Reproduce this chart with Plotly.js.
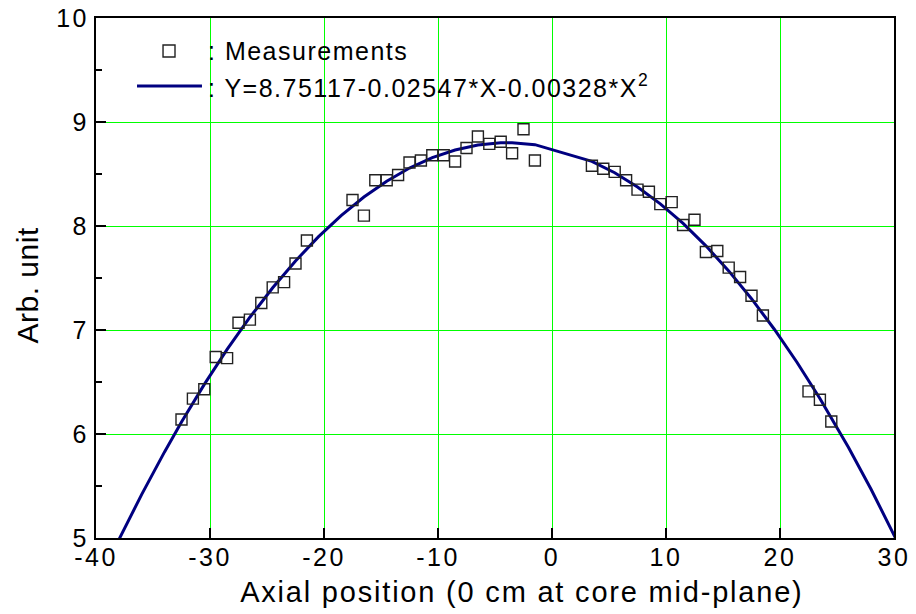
<!DOCTYPE html>
<html>
<head>
<meta charset="utf-8">
<script src="https://cdn.plot.ly/plotly-3.0.1.min.js"></script>
<style>
html,body{margin:0;padding:0;background:#fff;}
#chart{width:916px;height:614px;}
.xtick text, .ytick text{letter-spacing:2.5px;}
.annotation-text{letter-spacing:1.5px;}
.annotation[data-index="2"] .annotation-text{letter-spacing:1.8px;}
.annotation[data-index="3"] .annotation-text{letter-spacing:0.5px;}
</style>
</head>
<body>
<div id="chart"></div>
<script>
var measX = [-32.5,-31.5,-30.5,-29.5,-28.5,-27.5,-26.5,-25.5,-24.5,-23.5,-22.5,-21.5,
             -17.5,-16.5,-15.5,-14.5,-13.5,-12.5,-11.5,-10.5,-9.5,-8.5,-7.5,-6.5,-5.5,-4.5,-3.5,-2.5,-1.5,
             3.5,4.5,5.5,6.5,7.5,8.5,9.5,10.5,11.5,12.5,13.5,14.5,15.5,16.5,17.5,18.5,
             22.5,23.5,24.5];
var measY = [6.14,6.34,6.43,6.74,6.73,7.07,7.10,7.26,7.41,7.46,7.64,7.86,
             8.25,8.10,8.44,8.44,8.49,8.61,8.63,8.68,8.68,8.62,8.75,8.86,8.79,8.81,8.70,8.93,8.63,
             8.58,8.55,8.52,8.44,8.35,8.33,8.21,8.23,8.01,8.06,7.75,7.76,7.60,7.51,7.33,7.14,
             6.41,6.33,6.12];
// Fitted curve values (Y=8.75117-0.02547*X-0.00328*X^2), tabulated
var fitX = [-38,-36,-34,-32.5,-30.5,-28.5,-26.5,-24.5,-22.5,-20.5,-18.5,-16.5,-14.5,-12.5,-10.5,-8.5,-6.5,-4.5,-3.5,-2.5,-1.5,
            3.5,5.5,7.5,9.5,11.5,13.5,15.5,17.5,19.5,21.5,23.5,24.5,26,28,30,31];
var fitY = [4.9827,5.4172,5.8255,6.1145,6.4768,6.8129,7.1228,7.4064,7.6638,7.8949,8.0998,8.2785,8.4309,8.5571,8.6570,8.7307,8.7782,8.7994,8.8001,8.7944,8.7820,
            8.6218,8.5119,8.3756,8.2132,8.0245,7.8095,7.5684,7.3009,7.0073,6.6874,6.3412,6.1583,5.8717,5.4665,5.0351,4.8095];
var xTicks = [-40,-30,-20,-10,0,10,20,30];
var yTicks = [5,6,7,8,9,10];
var legendLabels = [': Measurements', ': Y=8.75117-0.02547*X-0.00328*X<sup>2</sup>'];
var xTitle = 'Axial position (0 cm at core mid-plane)';
var yTitle = 'Arb. unit';

var FONT = 'Liberation Sans, Arial, sans-serif';

var traces = [
  {x: fitX, y: fitY, mode: 'lines', type: 'scatter',
   line: {color: '#000080', width: 3}, showlegend: false, hoverinfo: 'skip'},
  {x: measX, y: measY, mode: 'markers', type: 'scatter',
   marker: {symbol: 'square-open', size: 11, color: '#222', line: {width: 1.4}},
   showlegend: false}
];

var layout = {
  width: 916, height: 614,
  margin: {l: 96, r: 22, t: 18, b: 76},
  paper_bgcolor: '#fff', plot_bgcolor: '#fff',
  font: {family: FONT, color: '#000', size: 24},
  showlegend: false,
  xaxis: {
    range: [-40, 30], tickvals: xTicks, ticktext: xTicks.map(String),
    ticks: 'inside', ticklen: 10, tickwidth: 1.5, tickcolor: '#000',
    showgrid: true, gridcolor: '#00ff00', gridwidth: 1,
    zeroline: false, showline: true, linecolor: '#000', linewidth: 2, mirror: true,
    tickfont: {size: 25, family: FONT}, ticklabelstandoff: -4
  },
  yaxis: {
    range: [5, 10], tickvals: yTicks, ticktext: yTicks.map(String),
    ticks: 'inside', ticklen: 10, tickwidth: 1.5, tickcolor: '#000',
    minor: {dtick: 0.5, ticks: 'inside', ticklen: 6, tickcolor: '#000', tickwidth: 1.2, showgrid: false},
    showgrid: true, gridcolor: '#00ff00', gridwidth: 1,
    zeroline: false, showline: true, linecolor: '#000', linewidth: 2, mirror: true,
    tickfont: {size: 25, family: FONT}
  },
  shapes: [
    {type: 'rect', xref: 'paper', yref: 'paper', x0: 0.0840, x1: 0.0990, y0: 0.925, y1: 0.948,
     line: {color: '#222', width: 1.4}, fillcolor: 'rgba(0,0,0,0)'},
    {type: 'line', xref: 'paper', yref: 'paper', x0: 0.0514, x1: 0.1328, y0: 0.8692, y1: 0.8692,
     line: {color: '#000080', width: 3}}
  ],
  annotations: [
    {xref: 'paper', yref: 'paper', x: 0.1378, y: 0.9365, xanchor: 'left', yanchor: 'middle',
     text: legendLabels[0], showarrow: false, font: {size: 25, family: FONT}},
    {xref: 'paper', yref: 'paper', x: 0.1378, y: 0.8692, xanchor: 'left', yanchor: 'middle',
     text: legendLabels[1], showarrow: false, font: {size: 25, family: FONT}},
    {xref: 'paper', yref: 'paper', x: 0.5338, y: -0.1038, xanchor: 'center', yanchor: 'middle',
     text: xTitle, showarrow: false, font: {size: 29, family: FONT}},
    {xref: 'paper', yref: 'paper', x: -0.0865, y: 0.4865, xanchor: 'center', yanchor: 'middle',
     text: yTitle, textangle: -90, showarrow: false, font: {size: 30, family: FONT}}
  ]
};

Plotly.newPlot('chart', traces, layout, {staticPlot: true, displayModeBar: false});
</script>
</body>
</html>
